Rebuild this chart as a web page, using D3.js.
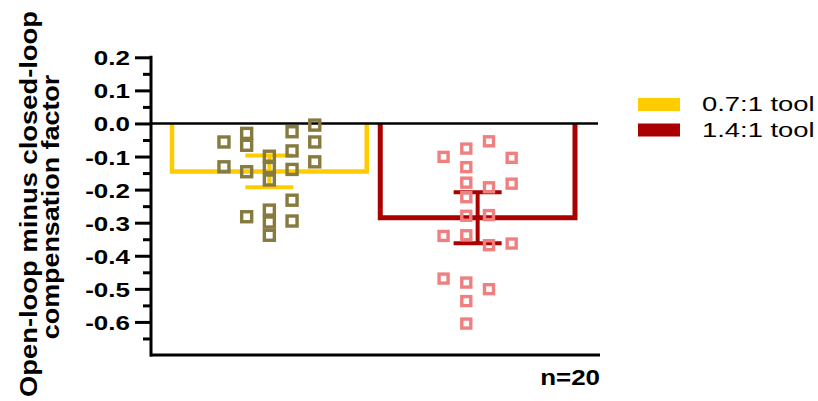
<!DOCTYPE html>
<html>
<head>
<meta charset="utf-8">
<script src="https://cdn.jsdelivr.net/npm/d3@7"></script>
<style>
  body { margin: 0; background: #fff; }
  svg { display: block; font-family: "Liberation Sans", Arial, sans-serif; }
</style>
</head>
<body>
<svg width="818" height="401"></svg>
<script>
// data
var groups = ["0.7:1 tool", "1.4:1 tool"];
var groupMeans = [-0.145, -0.285];
var groupSems = [0.048, 0.077];
var groupColors = ["#ffcc00", "#aa0000"];
var pointColors = ["#877a3e", "#f08080"];

// individual subjects (value, swarm column)
var lowToolValues = [-0.056, -0.131,
	-0.030, -0.066, -0.146, -0.282,
	-0.099, -0.133, -0.171, -0.262, -0.298, -0.338,
	-0.025, -0.083, -0.139, -0.232, -0.295,
	-0.005, -0.056, -0.116];
var lowToolCols = [-2, -2, -1, -1, -1, -1, 0, 0, 0, 0, 0, 0, 1, 1, 1, 1, 1, 2, 2, 2];

var highToolValues = [-0.101, -0.340, -0.469,
	-0.076, -0.132, -0.179, -0.223, -0.279, -0.338, -0.481, -0.537, -0.605,
	-0.054, -0.193, -0.277, -0.368, -0.501,
	-0.104, -0.182, -0.363];
var highToolCols = [-1.5, -1.5, -1.5,
	-0.5, -0.5, -0.5, -0.5, -0.5, -0.5, -0.5, -0.5, -0.5,
	0.5, 0.5, 0.5, 0.5, 0.5,
	1.5, 1.5, 1.5];

var majorTicks = [0.2, 0.1, 0.0, -0.1, -0.2, -0.3, -0.4, -0.5, -0.6];
var minorTicks = [0.15, 0.05, -0.05, -0.15, -0.25, -0.35, -0.45, -0.55, -0.65];

var svg = d3.select("svg");

var y = d3.scaleLinear().domain([-0.7, 0.2]).range([355, 57.3]);
var x = d3.scaleBand().domain(groups).range([172, 575]).paddingInner(0.065);
var colStep = 22.7;

// y axis, major + minor ticks
var yMajor = svg.append("g").attr("transform", "translate(151,0)")
	.call(d3.axisLeft(y).tickValues(majorTicks).tickSize(16).tickSizeOuter(0)
		.tickFormat(d3.format(".1f")));
yMajor.select(".domain").remove();
yMajor.selectAll(".tick line").attr("stroke", "#000").attr("stroke-width", 3);
yMajor.selectAll(".tick text")
	.attr("x", 0).attr("dy", null).attr("y", 0)
	.attr("transform", "translate(-21,7.5) scale(1.24,1)")
	.style("font-size", "21px").style("font-weight", "bold")
	.text(function(d){ return d3.format(".1f")(d).replace("−", "-"); });

var yMinor = svg.append("g").attr("transform", "translate(151,0)")
	.call(d3.axisLeft(y).tickValues(minorTicks).tickSize(8).tickFormat(""));
yMinor.select(".domain").remove();
yMinor.selectAll(".tick line").attr("stroke", "#000").attr("stroke-width", 3);

svg.append("line")
	.attr("x1", 151).attr("x2", 151)
	.attr("y1", y(0.2) - 1.5).attr("y2", y(-0.7) + 1.5)
	.attr("stroke", "#000").attr("stroke-width", 3);

// bottom line
svg.append("line")
	.attr("x1", 150).attr("x2", 600)
	.attr("y1", y(-0.7)).attr("y2", y(-0.7))
	.attr("stroke", "#000").attr("stroke-width", 3);

// bars (open outlines hanging from zero)
groups.forEach(function(g, i){
	var x0 = x(g), x1 = x(g) + x.bandwidth();
	svg.append("path")
		.attr("d", "M" + x0 + "," + y(0) + "V" + y(groupMeans[i]) + "H" + x1 + "V" + y(0))
		.attr("fill", "none")
		.attr("stroke", groupColors[i])
		.attr("stroke-width", i === 0 ? 4.5 : 5);
});

// zero line
svg.append("line")
	.attr("x1", 150).attr("x2", 598)
	.attr("y1", y(0)).attr("y2", y(0))
	.attr("stroke", "#000").attr("stroke-width", 2.5);

// error bars
groups.forEach(function(g, i){
	var cx = x(g) + x.bandwidth() / 2;
	var lo = y(groupMeans[i] - groupSems[i]), hi = y(groupMeans[i] + groupSems[i]);
	var eb = svg.append("g").attr("stroke", groupColors[i]).attr("stroke-width", 4);
	eb.append("line").attr("x1", cx).attr("x2", cx).attr("y1", hi).attr("y2", lo);
	eb.append("line").attr("x1", cx - 24).attr("x2", cx + 24).attr("y1", hi).attr("y2", hi);
	eb.append("line").attr("x1", cx - 24).attr("x2", cx + 24).attr("y1", lo).attr("y2", lo);
});

// points
function plotPoints(values, cols, gi, size){
	var cx = x(groups[gi]) + x.bandwidth() / 2;
	svg.append("g").selectAll("rect")
		.data(values.map(function(v, k){ return {v: v, c: cols[k]}; }))
		.enter()
		.append("rect")
		.attr("x", function(d){ return cx + d.c * colStep - size / 2; })
		.attr("y", function(d){ return y(d.v) - size / 2; })
		.attr("width", size).attr("height", size)
		.attr("fill", "none")
		.attr("stroke", pointColors[gi])
		.attr("stroke-width", 3.4);
}
plotPoints(lowToolValues, lowToolCols, 0, 10);
plotPoints(highToolValues, highToolCols, 1, 9);

// y title
var title = svg.append("g").attr("transform", "translate(0,204)");
title.append("text")
	.attr("transform", "translate(36.5,0) rotate(-90) scale(1.19,1)")
	.attr("text-anchor", "middle")
	.style("font-size", "23px").style("font-weight", "bold")
	.text("Open-loop minus closed-loop");
title.append("text")
	.attr("transform", "translate(58.5,3) rotate(-90) scale(1.17,1)")
	.attr("text-anchor", "middle")
	.style("font-size", "23px").style("font-weight", "bold")
	.text("compensation factor");

// n label
svg.append("text")
	.attr("transform", "translate(600,385) scale(1.18,1)")
	.attr("text-anchor", "end")
	.style("font-size", "22px").style("font-weight", "bold")
	.text("n=20");

// legend
var legend = svg.append("g");
groups.forEach(function(g, i){
	var ly = 98 + i * 25.5;
	legend.append("rect")
		.attr("x", 638).attr("y", ly)
		.attr("width", 42).attr("height", 13)
		.attr("fill", groupColors[i]);
	legend.append("text")
		.attr("transform", "translate(702," + (ly + 13) + ") scale(1.37,1)")
		.style("font-size", "20px")
		.text(g);
});
</script>
</body>
</html>
